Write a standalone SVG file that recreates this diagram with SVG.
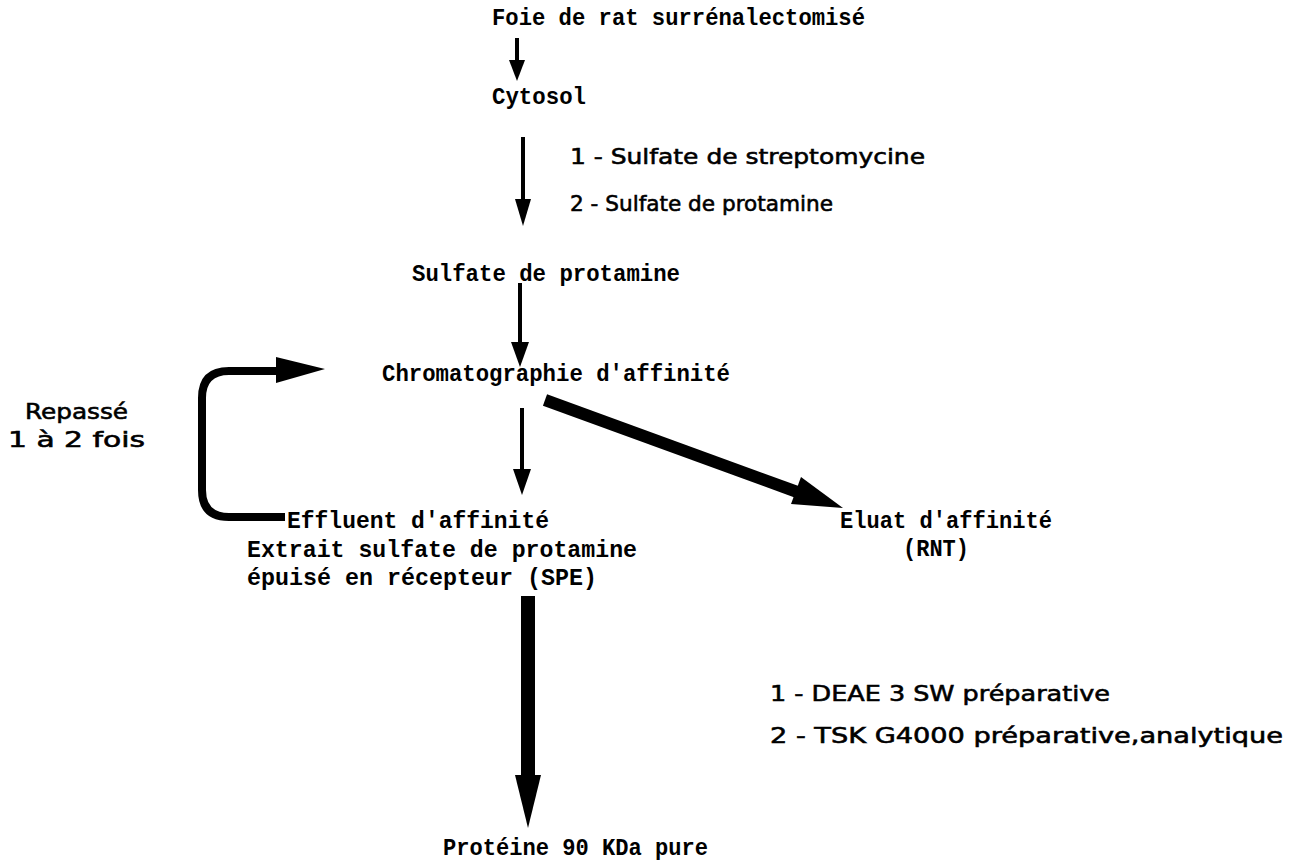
<svg xmlns="http://www.w3.org/2000/svg" width="1297" height="862" viewBox="0 0 1297 862">
<style>
.t{font-family:"Liberation Mono","Courier New",monospace;font-size:24px;font-weight:bold;fill:#000}
.s{font-family:"DejaVu Sans","Liberation Sans",sans-serif;font-size:22px;fill:#000;stroke:#000;stroke-width:0.6}
.ln{stroke:#000;fill:none}
.hd{fill:#000;stroke:none}
</style>
<rect width="1297" height="862" fill="#fff"/>
<g id="n-foie"><text class="t" x="492" y="25" textLength="373" lengthAdjust="spacingAndGlyphs">Foie de rat surrénalectomisé</text></g>
<g id="n-cytosol"><text class="t" x="492" y="104" textLength="94" lengthAdjust="spacingAndGlyphs">Cytosol</text></g>
<g id="lbl-step1">
<text class="s" x="570" y="164" textLength="355" lengthAdjust="spacingAndGlyphs">1 - Sulfate de streptomycine</text>
<text class="s" x="570" y="211" textLength="263" lengthAdjust="spacingAndGlyphs">2 - Sulfate de protamine</text>
</g>
<g id="n-sulfate"><text class="t" x="412" y="281" textLength="268" lengthAdjust="spacingAndGlyphs">Sulfate de protamine</text></g>
<g id="n-chromato"><text class="t" x="382" y="381" textLength="348" lengthAdjust="spacingAndGlyphs">Chromatographie d'affinité</text></g>
<g id="lbl-repasse">
<text class="s" x="25" y="419" textLength="103" lengthAdjust="spacingAndGlyphs">Repassé</text>
<text class="s" x="8" y="447" textLength="137" lengthAdjust="spacingAndGlyphs">1 à 2 fois</text>
</g>
<g id="n-effluent">
<text class="t" x="287" y="528" textLength="262" lengthAdjust="spacingAndGlyphs">Effluent d'affinité</text>
<text class="t" x="247" y="557" textLength="390" lengthAdjust="spacingAndGlyphs">Extrait sulfate de protamine</text>
<text class="t" x="247" y="585" textLength="350" lengthAdjust="spacingAndGlyphs">épuisé en récepteur (SPE)</text>
</g>
<g id="n-eluat">
<text class="t" x="840" y="528" textLength="212" lengthAdjust="spacingAndGlyphs">Eluat d'affinité</text>
<text class="t" x="903" y="556" textLength="66" lengthAdjust="spacingAndGlyphs">(RNT)</text>
</g>
<g id="lbl-step2">
<text class="s" x="770" y="701" textLength="340" lengthAdjust="spacingAndGlyphs">1 - DEAE 3 SW préparative</text>
<text class="s" x="770" y="743" textLength="513" lengthAdjust="spacingAndGlyphs">2 - TSK G4000 préparative,analytique</text>
</g>
<g id="n-proteine"><text class="t" x="443" y="855" textLength="265" lengthAdjust="spacingAndGlyphs">Protéine 90 KDa pure</text></g>
<g id="connectors">
<line class="ln" x1="517" y1="38" x2="517" y2="64" stroke-width="4"/>
<polygon class="hd" points="509,60 525,60 517,81"/>
<line class="ln" x1="523" y1="137" x2="523" y2="202" stroke-width="4"/>
<polygon class="hd" points="515,199 531,199 523,226"/>
<line class="ln" x1="520" y1="283" x2="520" y2="345" stroke-width="4"/>
<polygon class="hd" points="511,342 529,342 520,367"/>
<line class="ln" x1="522" y1="408" x2="522" y2="472" stroke-width="4"/>
<polygon class="hd" points="513,469 531,469 522,495"/>
<path class="ln" d="M285 517 H229 Q202 517 202 490 V398 Q202 371 229 371 H280" stroke-width="8"/>
<polygon class="hd" points="276,357 325,369 276,383"/>
<line class="ln" x1="545" y1="400" x2="800" y2="493" stroke-width="12"/>
<polygon class="hd" points="843,508 791,504 801,477"/>
<line class="ln" x1="528" y1="596" x2="528" y2="780" stroke-width="14"/>
<polygon class="hd" points="515,775 541,775 528,828"/>
</g>
</svg>
